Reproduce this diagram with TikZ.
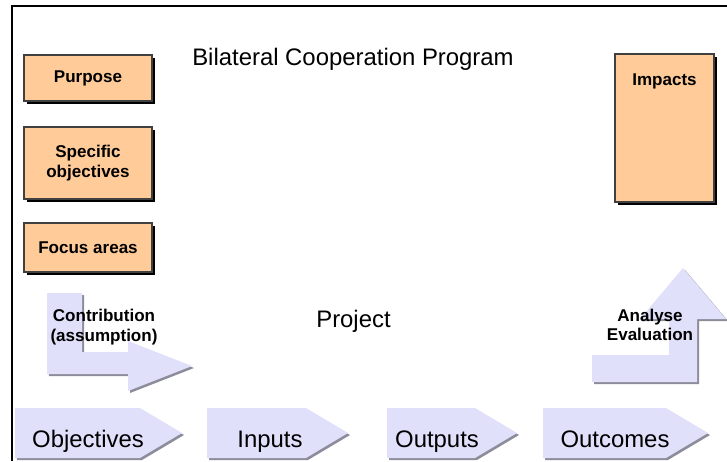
\documentclass[tikz,border=0pt]{standalone}
\usepackage{fontspec}
\setmainfont{Liberation Sans}
\usetikzlibrary{positioning,shadows}
\definecolor{peach}{RGB}{255,204,153}
\definecolor{lilac}{RGB}{224,224,250}
\definecolor{edgegray}{RGB}{140,140,155}
\tikzset{
  obox/.style={rectangle, fill=peach, draw=black!75, line width=0.6pt,
    general shadow={shadow xshift=0.06cm, shadow yshift=-0.06cm, fill=black},
    font=\fontsize{9.7}{11.4}\selectfont\bfseries, align=center},
  blbl/.style={font=\fontsize{9.7}{11.2}\selectfont\bfseries, align=center, inner sep=0pt},
  big/.style={font=\fontsize{13.6}{16}\selectfont, inner sep=0pt},
  flat/.style={fill=lilac,
    general shadow={shadow xshift=0.04cm, shadow yshift=-0.04cm, fill=edgegray}}
}
\begin{document}
\begin{tikzpicture}[x=0.02cm, y=-0.02cm]
\useasboundingbox (0,0) rectangle (727,461);
\draw[line width=1.1pt] (727,6) -- (12,6) -- (12,461);

% Programa
\node[big, anchor=base] (program) at (353,65) {Bilateral Cooperation Program};
\node[obox, minimum width=2.56cm, minimum height=0.92cm] (purpose) at (88,78) {Purpose};
\node[obox, minimum width=2.56cm, minimum height=1.44cm] (specific) at (88,163) {Specific\\objectives};
\node[obox, minimum width=2.56cm, minimum height=0.98cm] (focus) at (88,247.5) {Focus areas};
\node[obox, minimum width=1.98cm, minimum height=2.96cm] (impacts) at (664.5,128) {};
\node[blbl, anchor=base] (impactslbl) at (664.5,85) {Impacts};

% Setas dobradas
\path[flat] (47,293) -- (82,293) -- (82,352) -- (128,352) -- (128,341) -- (192,366)
  -- (128,391) -- (128,374) -- (47,374) -- cycle;
\path[flat] (592,355) -- (669,355) -- (669,319) -- (640,319) -- (683,268) -- (726,319)
  -- (697,319) -- (697,382) -- (592,382) -- cycle;
\node[blbl] (contrib) at (104,327) {Contribution\\(assumption)};
\node[blbl] (analyse) at (650,325) {Analyse\\Evaluation};
\node[big, anchor=base] (project) at (353.5,327) {Project};

% Cadeia
\path[flat] (15,408) -- (140,408) -- (182,433) -- (140,458) -- (15,458) -- cycle;
\path[flat] (207,408) -- (306,408) -- (348,433) -- (306,458) -- (207,458) -- cycle;
\path[flat] (387,408) -- (475,408) -- (517,433) -- (475,458) -- (387,458) -- cycle;
\path[flat] (543,408) -- (666,408) -- (708,433) -- (666,458) -- (543,458) -- cycle;
\node[big, anchor=base] (objectives) at (88,447) {Objectives};
\node[big, anchor=base] (inputs) at (270,447) {Inputs};
\node[big, anchor=base] (outputs) at (437,447) {Outputs};
\node[big, anchor=base] (outcomes) at (615,447) {Outcomes};
\end{tikzpicture}
\end{document}
